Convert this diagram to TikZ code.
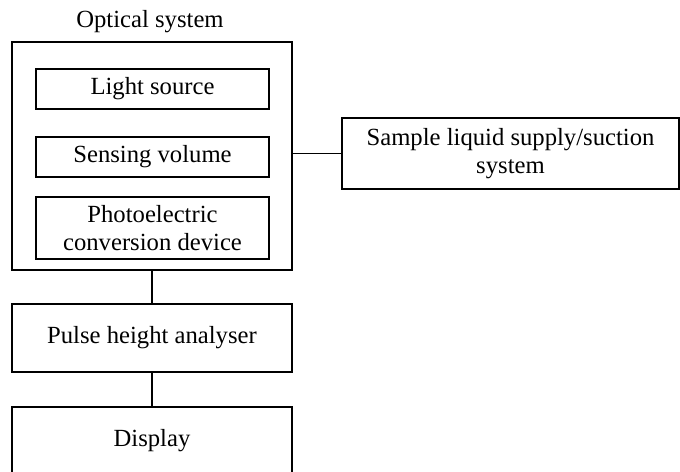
\documentclass[tikz,border=0pt]{standalone}
\usepackage{fontspec}
\setmainfont{Liberation Serif}
\usetikzlibrary{positioning}
\newcommand*{\outerwidth}{210pt}
\newcommand*{\innerwidth}{174.75pt}

\begin{document}
\begin{tikzpicture}[x=0.75pt, y=-0.75pt,
    block/.style={draw, line width=1pt, minimum width=\outerwidth, align=center, inner sep=0pt,
                  font=\fontsize{18.5}{21}\selectfont},
    part/.style={block, minimum width=\innerwidth}]
    % page size
    \useasboundingbox (0,0) rectangle (680,471);
    % optical system with its parts
    \node[block, minimum height=171pt] (optical) at (152,156) {};
    \node[font=\fontsize{18.5}{21}\selectfont] (opticallabel) at (150,22) {Optical system};
    \node[part, minimum height=30pt] (lightsource) at (152.5,89) {Light source};
    \node[part, minimum height=30pt] (sensing) at (152.5,157) {Sensing volume};
    \node[part, minimum height=46.5pt] (photo) at (152.5,228) {Photoelectric\\conversion device};
    % sample supply
    \node[block, minimum width=252.75pt, minimum height=53.25pt] (sample) at (510.5,153.5) {Sample liquid supply/suction\\system};
    % pulse height analyser and display
    \node[block, minimum height=51pt] (pulse) at (152,338) {Pulse height analyser};
    \node[block, minimum height=51pt] (display) at (152,441) {Display};
    % connections
    \draw[line width=1pt] (sample.west) -- (sample.west -| optical.east);
    \draw[line width=1pt] (optical.south) -- (pulse.north);
    \draw[line width=1pt] (pulse.south) -- (display.north);
\end{tikzpicture}
\end{document}
